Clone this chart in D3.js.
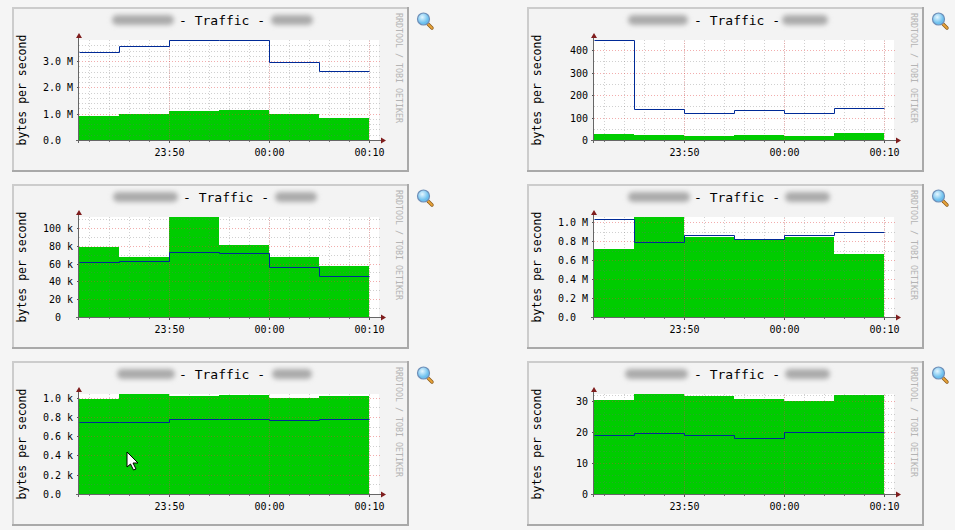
<!DOCTYPE html>
<html>
<head>
<meta charset="utf-8">
<script src="https://cdn.jsdelivr.net/npm/d3@7"></script>
<style>
  html, body { margin: 0; padding: 0; background: #f5f5f5; }
  svg { display: block; }
  text { font-family: "DejaVu Sans Mono", monospace; white-space: pre; }
</style>
</head>
<body>
<svg id="chart" width="955" height="530"></svg>
<script>
// 5 minute steps, the last one only closes the line
var times = [[23,41],[23,45],[23,50],[23,55],[24,0],[24,5],[24,10]];

// green = inbound area, blue = outbound line
var greenA = [0.93e6, 1.0e6, 1.11e6, 1.14e6, 1.0e6, 0.84e6];
var blueA  = [3.34e6, 3.57e6, 3.8e6, 3.8e6, 2.96e6, 2.62e6];
var greenB = [28, 24, 19, 24, 19, 33];
var blueB  = [445, 138, 120, 133, 120, 142];
var greenC = [78.7e3, 67.5e3, 112.3e3, 81e3, 67.5e3, 57.5e3];
var blueC  = [61.5e3, 62.7e3, 72.8e3, 71.6e3, 56e3, 45.9e3];
var greenD = [0.72e6, 1.056e6, 0.85e6, 0.82e6, 0.85e6, 0.67e6];
var blueD  = [1.03e6, 0.79e6, 0.863e6, 0.82e6, 0.863e6, 0.895e6];
var greenE = [990, 1038, 1017, 1028, 1000, 1017];
var blueE  = [745, 745, 776, 776, 766, 776];
var greenF = [30.5, 32.4, 31.7, 30.8, 30.1, 32];
var blueF  = [19, 19.7, 19, 18, 20, 20];

var topA = 3.8e6, topB = 445, topC = 112.3e3, topD = 1.056e6, topE = 1038, topF = 32.4;

var ticksA = [0, 1e6, 2e6, 3e6];
var ticksB = [0, 100, 200, 300, 400];
var ticksC = [0, 20e3, 40e3, 60e3, 80e3, 100e3];
var ticksD = [0, 0.2e6, 0.4e6, 0.6e6, 0.8e6, 1e6];
var ticksE = [0, 200, 400, 600, 800, 1000];
var ticksF = [0, 10, 20, 30];

var labelsA = ["0.0  ", "1.0 M", "2.0 M", "3.0 M"];
var labelsB = ["0", "100", "200", "300", "400"];
var labelsC = ["0  ", "20 k", "40 k", "60 k", "80 k", "100 k"];
var labelsD = ["0.0  ", "0.2 M", "0.4 M", "0.6 M", "0.8 M", "1.0 M"];
var labelsE = ["0.0  ", "0.2 k", "0.4 k", "0.6 k", "0.8 k", "1.0 k"];
var labelsF = ["0", "10", "20", "30"];

var minorA = 0.2e6, minorB = 50, minorC = 10e3, minorD = 0.1e6, minorE = 100, minorF = 2;

var panels = [
  {col: 0, row: 0, green: greenA, blue: blueA, top: topA, ticks: ticksA, labels: labelsA, minor: minorA, titleX: 179, smudges: [[112,62],[271,42]]},
  {col: 1, row: 0, green: greenB, blue: blueB, top: topB, ticks: ticksB, labels: labelsB, minor: minorB, titleX: 179, smudges: [[113,60],[267,46]]},
  {col: 0, row: 1, green: greenC, blue: blueC, top: topC, ticks: ticksC, labels: labelsC, minor: minorC, titleX: 183, smudges: [[113,65],[275,42]]},
  {col: 1, row: 1, green: greenD, blue: blueD, top: topD, ticks: ticksD, labels: labelsD, minor: minorD, titleX: 179, smudges: [[113,62],[270,45]]},
  {col: 0, row: 2, green: greenE, blue: blueE, top: topE, ticks: ticksE, labels: labelsE, minor: minorE, titleX: 179, smudges: [[117,58],[272,40]]},
  {col: 1, row: 2, green: greenF, blue: blueF, top: topF, ticks: ticksF, labels: labelsF, minor: minorF, titleX: 179, smudges: [[110,63],[270,45]]}
];

var svg = d3.select("#chart");
var defs = svg.append("defs");
defs.append("filter").attr("id", "smudge")
  .attr("x", "-30%").attr("y", "-100%").attr("width", "160%").attr("height", "300%")
  .append("feGaussianBlur").attr("stdDeviation", 2.6);
var lens = defs.append("radialGradient").attr("id", "lens").attr("cx", "40%").attr("cy", "35%");
lens.append("stop").attr("offset", "0%").attr("stop-color", "#e4f6ff");
lens.append("stop").attr("offset", "100%").attr("stop-color", "#6cc0ee");

var toDate = function(t) { return new Date(2010, 0, 1, t[0], t[1]); };
var dates = times.map(toDate);

// plot runs about a minute past the last sample
var x = d3.scaleTime().domain([dates[0], new Date(2010, 0, 2, 0, 11)]).range([79, 379]);

panels.forEach(function(p) {
  var g = svg.append("g").attr("transform", "translate(" + (p.col * 515) + "," + (p.row * 177) + ")");

  // frame
  g.append("rect").attr("x", 12).attr("y", 7).attr("width", 397).attr("height", 165).attr("fill", "#cccccc");
  g.append("path").attr("d", "M409,7V172H12V170H407V7Z").attr("fill", "#a9a9a9");
  g.append("rect").attr("x", 14).attr("y", 9).attr("width", 393).attr("height", 161).attr("fill", "#f3f3f3");

  var y = d3.scaleLinear().domain([0, p.top]).rangeRound([140, 40]);
  var pts = p.green.map(function(v, i) { return {t: dates[i], v: v}; });
  pts.push({t: dates[dates.length - 1], v: p.green[p.green.length - 1]});
  var linePts = p.blue.map(function(v, i) { return {t: dates[i], v: v}; });
  linePts.push({t: dates[dates.length - 1], v: p.blue[p.blue.length - 1]});

  g.append("rect").attr("x", 79).attr("y", 40).attr("width", 300).attr("height", 100).attr("fill", "#fff");

  g.append("path").datum(pts).attr("fill", "#00cc00")
    .attr("d", d3.area().curve(d3.curveStepAfter).x(function(d) { return x(d.t); }).y0(y(0)).y1(function(d) { return y(d.v); }));

  // minor grid
  var minorVals = d3.range(0, p.top, p.minor).filter(function(v) { return p.ticks.indexOf(v) < 0; });
  var gridMinorY = g.append("g").attr("transform", "translate(79,0)")
    .call(d3.axisLeft(y).tickValues(minorVals).tickSize(-302).tickFormat(""));
  var gridMinorX = g.append("g").attr("transform", "translate(0,140)")
    .call(d3.axisBottom(x).ticks(d3.timeMinute.every(2)).tickSize(-100).tickFormat(""));
  [gridMinorY, gridMinorX].forEach(function(a) {
    a.select(".domain").remove();
    a.selectAll("line").attr("stroke", "rgba(110,110,110,0.32)").attr("stroke-dasharray", "1,2");
  });

  // major grid
  var gridMajorY = g.append("g").attr("transform", "translate(79,0)")
    .call(d3.axisLeft(y).tickValues(p.ticks).tickSize(-302).tickFormat(""));
  gridMajorY.select(".domain").remove();
  gridMajorY.selectAll("line").attr("stroke", "rgba(225,60,60,0.42)").attr("stroke-dasharray", "1,2");
  var gridMajorX = g.append("g").attr("transform", "translate(0,140)")
    .call(d3.axisBottom(x).ticks(d3.timeMinute.every(10)).tickSize(-100).tickFormat(""));
  gridMajorX.select(".domain").remove();
  gridMajorX.selectAll("line").attr("stroke", "rgba(235,70,70,0.3)").attr("stroke-dasharray", "1,1");

  g.append("path").datum(linePts).attr("fill", "none").attr("stroke", "#002a97").attr("stroke-width", 1)
    .attr("transform", "translate(0.5,0.5)")
    .attr("d", d3.line().curve(d3.curveStepAfter).x(function(d) { return x(d.t); }).y(function(d) { return y(d.v); }));

  // axes
  var axisY = g.append("g").attr("transform", "translate(79,0)")
    .call(d3.axisLeft(y).tickValues(p.ticks).tickSize(2).tickPadding(4).tickFormat(function(d, i) { return p.labels[i]; }));
  axisY.select(".domain").remove();
  axisY.selectAll("line").attr("stroke", "#555");
  axisY.selectAll("text").attr("fill", "#000").style("font-size", "10px").style("font-family", "DejaVu Sans Mono");

  var axisXMinor = g.append("g").attr("transform", "translate(0,140)")
    .call(d3.axisBottom(x).ticks(d3.timeMinute.every(2)).tickSize(2).tickFormat(""));
  axisXMinor.select(".domain").remove();
  axisXMinor.selectAll("line").attr("stroke", "#777");

  var axisX = g.append("g").attr("transform", "translate(0,140)")
    .call(d3.axisBottom(x).ticks(d3.timeMinute.every(10)).tickSize(3).tickPadding(6).tickFormat(d3.timeFormat("%H:%M")));
  axisX.select(".domain").remove();
  axisX.selectAll("line").attr("stroke", "#555");
  axisX.selectAll("text").attr("fill", "#000").style("font-size", "10px").style("font-family", "DejaVu Sans Mono");

  g.append("line").attr("x1", 78.5).attr("x2", 78.5).attr("y1", 37).attr("y2", 143).attr("stroke", "#666");
  g.append("line").attr("x1", 76).attr("x2", 382).attr("y1", 140.5).attr("y2", 140.5).attr("stroke", "#666");
  g.append("path").attr("d", "M79,33L82,38H76Z").attr("fill", "#7f1d1d");
  g.append("path").attr("d", "M386,140.5L381,137.5V143.5Z").attr("fill", "#7f1d1d");

  // texts
  g.append("text").attr("x", p.titleX).attr("y", 25).style("font-size", "13px").attr("fill", "#000").text("- Traffic -");
  g.append("text").attr("transform", "translate(26,90) rotate(-90)").attr("text-anchor", "middle")
    .style("font-size", "11.5px").attr("fill", "#000").text("bytes per second");
  g.append("text").attr("transform", "translate(396,13) rotate(90)")
    .style("font-size", "8.3px").attr("fill", "#b4b4b4").text("RRDTOOL / TOBI OETIKER");

  // blurred out host names
  p.smudges.forEach(function(s) {
    g.append("rect").attr("x", s[0]).attr("y", 15).attr("width", s[1]).attr("height", 10).attr("rx", 5)
      .attr("fill", "#aaaaaa").attr("filter", "url(#smudge)");
  });

  // zoom icon
  g.append("line").attr("x1", 428).attr("y1", 24).attr("x2", 432).attr("y2", 28)
    .attr("stroke", "#8a5a1a").attr("stroke-width", 3.4).attr("stroke-linecap", "round");
  g.append("line").attr("x1", 428).attr("y1", 24).attr("x2", 432).attr("y2", 28)
    .attr("stroke", "#e8a33a").attr("stroke-width", 1.8).attr("stroke-linecap", "round");
  g.append("circle").attr("cx", 423.5).attr("cy", 19).attr("r", 6).attr("fill", "url(#lens)")
    .attr("stroke", "#6f8fb8").attr("stroke-width", 1.2);

  // mouse pointer only sits on the fifth graph
  if (p.col === 0 && p.row === 2) {
    g.append("path").attr("transform", "translate(127,98)")
      .attr("d", "M0,0V15L3.5,12L6.5,18L9,17L6,11H11Z")
      .attr("fill", "#fff").attr("stroke", "#000").attr("stroke-width", 1);
  }
});
</script>
</body>
</html>
